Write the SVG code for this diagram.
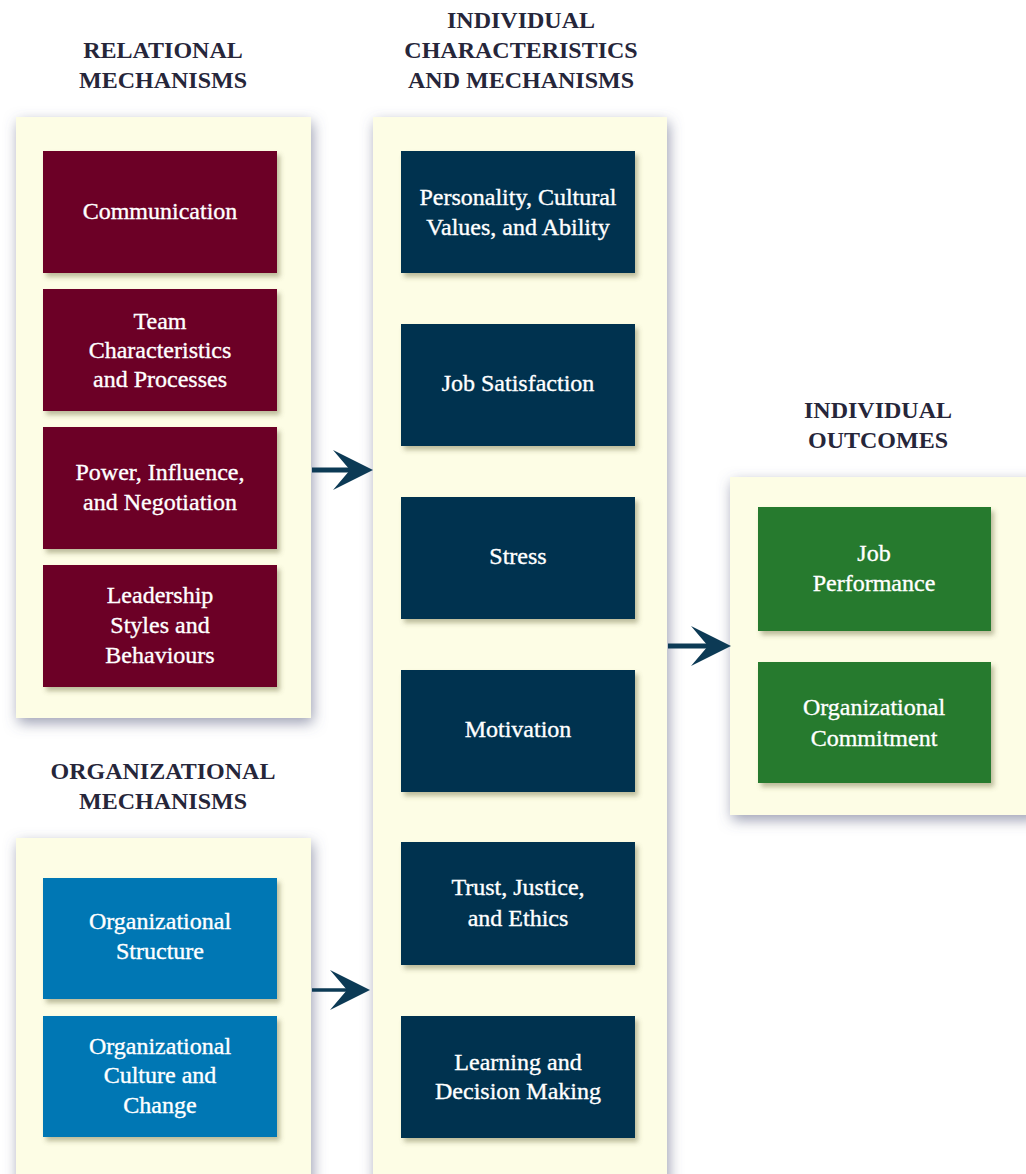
<svg xmlns="http://www.w3.org/2000/svg" width="1026" height="1174" viewBox="0 0 1026 1174">
<defs>
<style>
.title{font-family:"Liberation Serif","Times New Roman",serif;font-weight:bold;font-size:24px;fill:#26263a;text-anchor:middle}
.lbl{font-family:"Liberation Serif","Times New Roman",serif;font-size:24px;fill:#ffffff;stroke:#ffffff;stroke-width:0.35;text-anchor:middle}
.panel{fill:#fdfde5}
.rel{fill:#6c0026}
.ind{fill:#003350}
.org{fill:#0077b4}
.out{fill:#287a2e}
.conn line{stroke:#0c3a55;stroke-width:5}
.conn path{fill:#0c3a55}
</style>
<filter id="ps" x="-10%" y="-10%" width="125%" height="125%">
<feGaussianBlur in="SourceAlpha" stdDeviation="7" result="b"/>
<feOffset in="b" dx="2" dy="5" result="o"/>
<feFlood flood-color="#5a6080" flood-opacity="0.6"/>
<feComposite operator="in" in2="o"/>
<feMerge><feMergeNode/><feMergeNode in="SourceGraphic"/></feMerge>
</filter>
<filter id="bs" x="-10%" y="-10%" width="125%" height="125%">
<feGaussianBlur in="SourceAlpha" stdDeviation="2.5" result="b"/>
<feOffset in="b" dx="3" dy="4" result="o"/>
<feFlood flood-color="#6b6a40" flood-opacity="0.45"/>
<feComposite operator="in" in2="o"/>
<feMerge><feMergeNode/><feMergeNode in="SourceGraphic"/></feMerge>
</filter>
</defs>
<rect width="1026" height="1174" fill="#ffffff"/>

<g id="titles">
<text class="title" x="163" y="58">RELATIONAL</text>
<text class="title" x="163" y="88">MECHANISMS</text>
<text class="title" x="521" y="28">INDIVIDUAL</text>
<text class="title" x="521" y="58">CHARACTERISTICS</text>
<text class="title" x="521" y="88">AND MECHANISMS</text>
<text class="title" x="878" y="418">INDIVIDUAL</text>
<text class="title" x="878" y="448">OUTCOMES</text>
<text class="title" x="163" y="779">ORGANIZATIONAL</text>
<text class="title" x="163" y="809">MECHANISMS</text>
</g>

<g id="panels">
<rect id="panel-relational" class="panel" x="16" y="117" width="295" height="601" filter="url(#ps)"/>
<rect id="panel-organizational" class="panel" x="16" y="838" width="295" height="346" filter="url(#ps)"/>
<rect id="panel-individual" class="panel" x="373" y="117" width="294" height="1067" filter="url(#ps)"/>
<rect id="panel-outcomes" class="panel" x="730" y="477" width="306" height="338" filter="url(#ps)"/>
</g>

<g id="communication">
<rect class="rel" x="43" y="151" width="234" height="122" filter="url(#bs)"/>
<text class="lbl" x="160" y="219">Communication</text>
</g>
<g id="team">
<rect class="rel" x="43" y="289" width="234" height="122" filter="url(#bs)"/>
<text class="lbl" x="160" y="329">Team</text>
<text class="lbl" x="160" y="358">Characteristics</text>
<text class="lbl" x="160" y="387">and Processes</text>
</g>
<g id="power">
<rect class="rel" x="43" y="427" width="234" height="122" filter="url(#bs)"/>
<text class="lbl" x="160" y="480">Power, Influence,</text>
<text class="lbl" x="160" y="510">and Negotiation</text>
</g>
<g id="leadership">
<rect class="rel" x="43" y="565" width="234" height="122" filter="url(#bs)"/>
<text class="lbl" x="160" y="603">Leadership</text>
<text class="lbl" x="160" y="633">Styles and</text>
<text class="lbl" x="160" y="663">Behaviours</text>
</g>

<g id="org-structure">
<rect class="org" x="43" y="878" width="234" height="121" filter="url(#bs)"/>
<text class="lbl" x="160" y="929">Organizational</text>
<text class="lbl" x="160" y="959">Structure</text>
</g>
<g id="org-culture">
<rect class="org" x="43" y="1016" width="234" height="121" filter="url(#bs)"/>
<text class="lbl" x="160" y="1054">Organizational</text>
<text class="lbl" x="160" y="1083">Culture and</text>
<text class="lbl" x="160" y="1113">Change</text>
</g>

<g id="personality">
<rect class="ind" x="401" y="151" width="234" height="122" filter="url(#bs)"/>
<text class="lbl" x="518" y="205">Personality, Cultural</text>
<text class="lbl" x="518" y="235">Values, and Ability</text>
</g>
<g id="job-satisfaction">
<rect class="ind" x="401" y="324" width="234" height="122" filter="url(#bs)"/>
<text class="lbl" x="518" y="391">Job Satisfaction</text>
</g>
<g id="stress">
<rect class="ind" x="401" y="497" width="234" height="122" filter="url(#bs)"/>
<text class="lbl" x="518" y="564">Stress</text>
</g>
<g id="motivation">
<rect class="ind" x="401" y="670" width="234" height="122" filter="url(#bs)"/>
<text class="lbl" x="518" y="737">Motivation</text>
</g>
<g id="trust">
<rect class="ind" x="401" y="842" width="234" height="123" filter="url(#bs)"/>
<text class="lbl" x="518" y="895">Trust, Justice,</text>
<text class="lbl" x="518" y="926">and Ethics</text>
</g>
<g id="learning">
<rect class="ind" x="401" y="1016" width="234" height="122" filter="url(#bs)"/>
<text class="lbl" x="518" y="1070">Learning and</text>
<text class="lbl" x="518" y="1099">Decision Making</text>
</g>

<g id="job-performance">
<rect class="out" x="758" y="507" width="233" height="124" filter="url(#bs)"/>
<text class="lbl" x="874" y="561">Job</text>
<text class="lbl" x="874" y="591">Performance</text>
</g>
<g id="org-commitment">
<rect class="out" x="758" y="662" width="233" height="121" filter="url(#bs)"/>
<text class="lbl" x="874" y="715">Organizational</text>
<text class="lbl" x="874" y="746">Commitment</text>
</g>

<g id="connectors" class="conn">
<line x1="312" y1="470" x2="352" y2="470"/>
<path d="M373,470 L333,450 L350,470 L333,490 Z"/>
<line x1="668" y1="646" x2="710" y2="646"/>
<path d="M731,646 L691,626 L708,646 L691,666 Z"/>
<line x1="312" y1="990" x2="350" y2="990" style="stroke-width:3.5"/>
<path d="M370,990 L330,970 L347,990 L330,1010 Z"/>
</g>
</svg>
